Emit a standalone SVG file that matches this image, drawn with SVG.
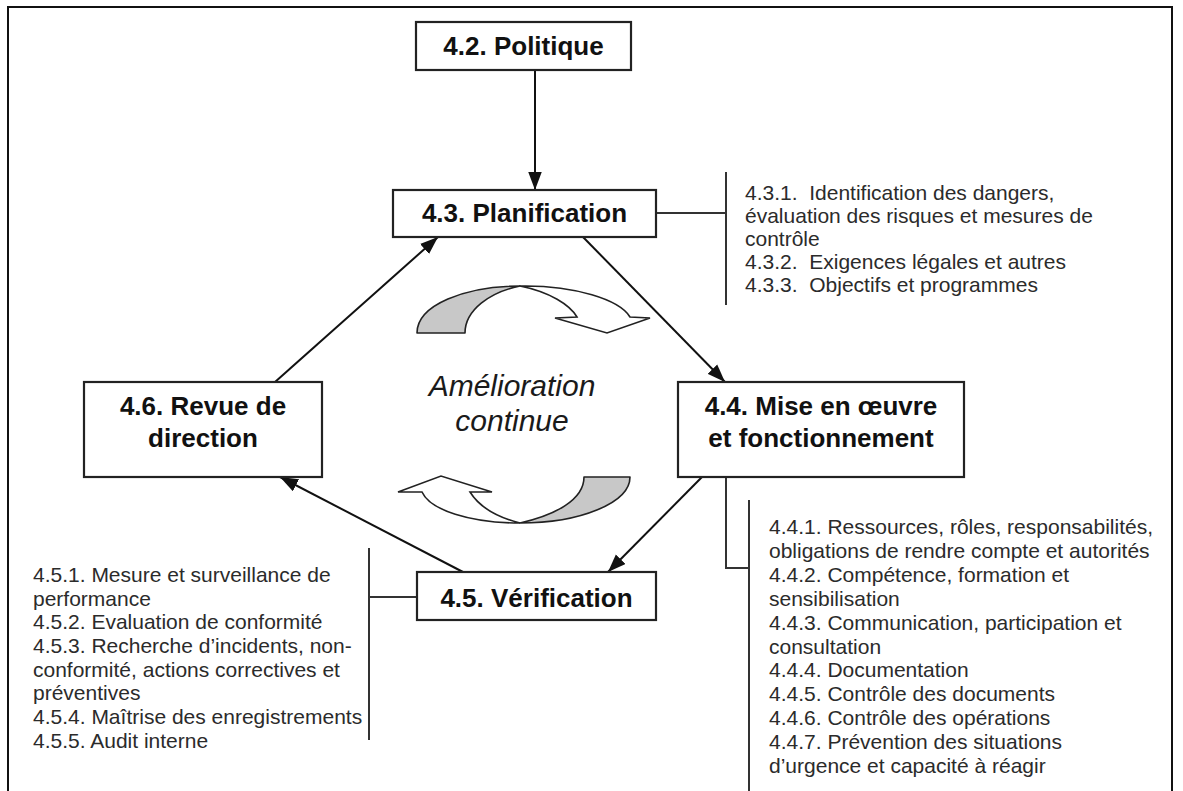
<svg xmlns="http://www.w3.org/2000/svg" width="1183" height="791" viewBox="0 0 1183 791">
  <defs>
    <style>
      .frame { fill: none; stroke: #111; stroke-width: 2; }
      .box { fill: #fff; stroke: #222; stroke-width: 2.2; }
      .title { font-family: "Liberation Sans", Arial, sans-serif; font-weight: bold; font-size: 26px; fill: #111; text-anchor: middle; }
      .list { font-family: "Liberation Sans", Arial, sans-serif; font-size: 21px; fill: #2b2b2b; }
      .centre { font-family: "Liberation Sans", Arial, sans-serif; font-style: italic; font-size: 30px; fill: #1a1a1a; text-anchor: middle; }
      .link { fill: none; stroke: #111; stroke-width: 2; }
      .tick { fill: none; stroke: #333; stroke-width: 2; }
      .band-grey { fill: #c8c8c8; stroke: #222; stroke-width: 1.6; stroke-linejoin: round; }
      .band-white { fill: #fff; stroke: #222; stroke-width: 1.6; stroke-linejoin: miter; }
    </style>
    <marker id="head" viewBox="0 0 16 12" refX="16" refY="6" markerWidth="18" markerHeight="14" markerUnits="userSpaceOnUse" orient="auto">
      <path d="M0,0 L16,6 L0,12 Z" fill="#111"/>
    </marker>
  </defs>

  <rect width="1183" height="791" fill="#fff"/>
  <rect class="frame" x="8" y="7" width="1164" height="800"/>

  <!-- cycle connectors and list brackets -->
  <g id="connectors">
    <line class="link" x1="535" y1="70" x2="535" y2="190" marker-end="url(#head)"/>
    <line class="link" x1="583" y1="237" x2="725" y2="382" marker-end="url(#head)"/>
    <line class="link" x1="702" y1="477" x2="608" y2="572" marker-end="url(#head)"/>
    <line class="link" x1="463" y1="572" x2="280" y2="477" marker-end="url(#head)"/>
    <line class="link" x1="275" y1="382" x2="438" y2="237" marker-end="url(#head)"/>

    <!-- 4.3 bracket -->
    <polyline class="tick" points="656,213 726,213"/>
    <line class="tick" x1="726" y1="172" x2="726" y2="305"/>
    <!-- 4.4 bracket -->
    <polyline class="tick" points="726,477 726,568 749,568"/>
    <line class="tick" x1="749" y1="500" x2="749" y2="795"/>
    <!-- 4.5 bracket -->
    <line class="tick" x1="369" y1="597" x2="417" y2="597"/>
    <line class="tick" x1="369" y1="548" x2="369" y2="740"/>
  </g>

  <g id="node-politique">
    <rect class="box" x="416" y="22" width="215" height="48"/>
    <text class="title" x="523.5" y="55">4.2. Politique</text>
  </g>

  <g id="node-planification">
    <rect class="box" x="393" y="190" width="263" height="47"/>
    <text class="title" x="524.5" y="222">4.3. Planification</text>
  </g>

  <g id="node-mise-en-oeuvre">
    <rect class="box" x="678" y="382" width="286" height="95"/>
    <text class="title" x="821" y="415">4.4. Mise en œuvre</text>
    <text class="title" x="821" y="447">et fonctionnement</text>
  </g>

  <g id="node-verification">
    <rect class="box" x="417" y="572" width="239" height="48"/>
    <text class="title" x="536.5" y="607">4.5. Vérification</text>
  </g>

  <g id="node-revue">
    <rect class="box" x="84" y="382" width="238" height="95"/>
    <text class="title" x="203" y="415">4.6. Revue de</text>
    <text class="title" x="203" y="447">direction</text>
  </g>

  <!-- central improvement loop -->
  <g id="loop">
    <path class="band-grey" d="M417,333 C417,305 465,286 520,286 C490,292 465,310 465,333 Z"/>
    <path class="band-white" d="M520,286 C575,285 620,300 630,317 L650,318 L607,333 L555,318 L577,317 C570,305 550,292 520,286 Z"/>
    <path class="band-grey" d="M584,477 L630,477 C630,503 580,523 520,523 C555,515 584,500 584,477 Z"/>
    <path class="band-white" d="M520,523 C470,523 430,510 422,492 L398,492 L441,476 L492,492 L470,492 C480,508 500,518 520,523 Z"/>
    <text class="centre" x="512" y="396">Amélioration</text>
    <text class="centre" x="512" y="431">continue</text>
  </g>

  <g id="list-planification">
    <text class="list" x="745" y="200">4.3.1.&#160; Identification des dangers,</text>
    <text class="list" x="745" y="223">évaluation des risques et mesures de</text>
    <text class="list" x="745" y="246">contrôle</text>
    <text class="list" x="745" y="269">4.3.2.&#160; Exigences légales et autres</text>
    <text class="list" x="745" y="292">4.3.3.&#160; Objectifs et programmes</text>
  </g>

  <g id="list-mise-en-oeuvre">
    <text class="list" x="769" y="534">4.4.1. Ressources, rôles, responsabilités,</text>
    <text class="list" x="769" y="558">obligations de rendre compte et autorités</text>
    <text class="list" x="769" y="582">4.4.2. Compétence, formation et</text>
    <text class="list" x="769" y="606">sensibilisation</text>
    <text class="list" x="769" y="630">4.4.3. Communication, participation et</text>
    <text class="list" x="769" y="654">consultation</text>
    <text class="list" x="769" y="677">4.4.4. Documentation</text>
    <text class="list" x="769" y="701">4.4.5. Contrôle des documents</text>
    <text class="list" x="769" y="725">4.4.6. Contrôle des opérations</text>
    <text class="list" x="769" y="749">4.4.7. Prévention des situations</text>
    <text class="list" x="769" y="773">d’urgence et capacité à réagir</text>
  </g>

  <g id="list-verification">
    <text class="list" x="33" y="582">4.5.1. Mesure et surveillance de</text>
    <text class="list" x="33" y="606">performance</text>
    <text class="list" x="33" y="629">4.5.2. Evaluation de conformité</text>
    <text class="list" x="33" y="653">4.5.3. Recherche d’incidents, non-</text>
    <text class="list" x="33" y="677">conformité, actions correctives et</text>
    <text class="list" x="33" y="700">préventives</text>
    <text class="list" x="33" y="724">4.5.4. Maîtrise des enregistrements</text>
    <text class="list" x="33" y="748">4.5.5. Audit interne</text>
  </g>
</svg>
